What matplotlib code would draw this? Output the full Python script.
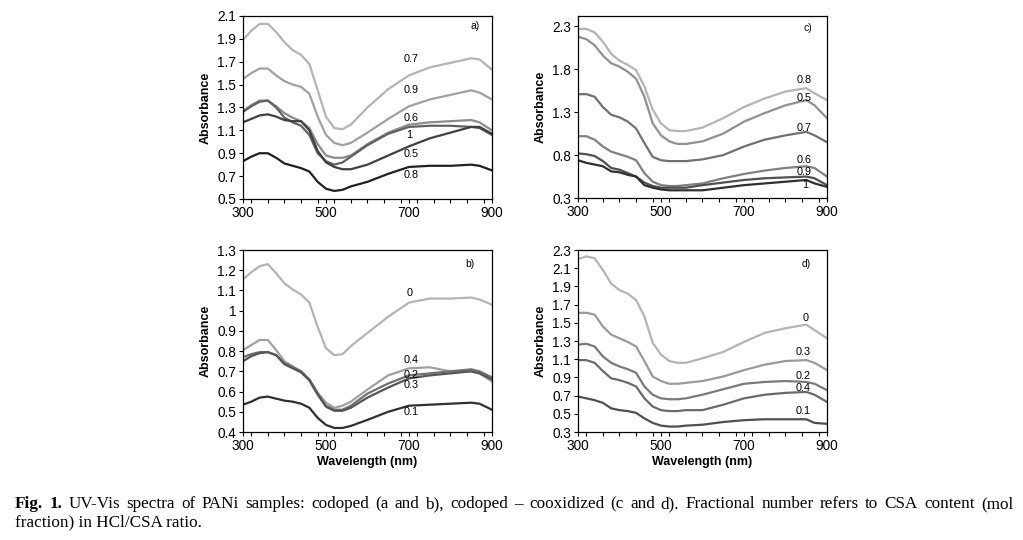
import numpy as np
import matplotlib.pyplot as plt
from matplotlib.ticker import MultipleLocator

plt.rcParams['font.family'] = ['Liberation Sans', 'DejaVu Sans']

wl = [300, 320, 340, 360, 380, 400, 420, 440, 460, 480, 500, 520, 540, 560,
      600, 650, 700, 750, 800, 850, 870, 900]

# panel a) codoped
a_labels = ['0.7', '0.9', '0.6', '1', '0.5', '0.8']
a_vals = [
    [1.89, 1.97, 2.03, 2.03, 1.96, 1.87, 1.80, 1.76, 1.68, 1.45, 1.22, 1.12, 1.11, 1.15,
     1.30, 1.46, 1.58, 1.65, 1.69, 1.73, 1.72, 1.63],
    [1.55, 1.60, 1.64, 1.64, 1.58, 1.53, 1.50, 1.48, 1.42, 1.22, 1.06, 0.99, 0.97, 0.99,
     1.08, 1.20, 1.31, 1.37, 1.41, 1.45, 1.43, 1.37],
    [1.27, 1.32, 1.36, 1.36, 1.31, 1.25, 1.21, 1.18, 1.12, 0.98, 0.88, 0.86, 0.86, 0.88,
     0.98, 1.08, 1.15, 1.17, 1.18, 1.19, 1.17, 1.10],
    [1.26, 1.31, 1.35, 1.36, 1.30, 1.21, 1.17, 1.14, 1.06, 0.90, 0.83, 0.80, 0.82, 0.87,
     0.97, 1.07, 1.13, 1.14, 1.14, 1.13, 1.12, 1.06],
    [1.17, 1.20, 1.23, 1.24, 1.22, 1.19, 1.18, 1.18, 1.10, 0.92, 0.82, 0.78, 0.76, 0.76,
     0.80, 0.88, 0.96, 1.03, 1.08, 1.13, 1.13, 1.07],
    [0.83, 0.87, 0.90, 0.90, 0.86, 0.81, 0.79, 0.77, 0.74, 0.65, 0.59, 0.57, 0.58, 0.61,
     0.65, 0.72, 0.78, 0.79, 0.79, 0.80, 0.79, 0.75],
]
a_colors = ['#b4b4b4', '#a0a0a0', '#8c8c8c', '#606060', '#404040', '#202020']
a_text = [(705, 1.72), (705, 1.45), (705, 1.21), (700, 1.06), (705, 0.89), (705, 0.71)]

# panel b) codoped
b_labels = ['0', '0.4', '0.2', '0.3', '0.1']
b_vals = [
    [1.155, 1.19, 1.22, 1.23, 1.185, 1.135, 1.105, 1.08, 1.04, 0.92, 0.815, 0.78, 0.785, 0.825,
     0.89, 0.97, 1.04, 1.06, 1.06, 1.065, 1.055, 1.03],
    [0.805, 0.83, 0.855, 0.855, 0.805, 0.75, 0.725, 0.70, 0.66, 0.595, 0.545, 0.52, 0.53, 0.55,
     0.61, 0.68, 0.715, 0.72, 0.70, 0.70, 0.69, 0.65],
    [0.77, 0.785, 0.795, 0.795, 0.78, 0.74, 0.72, 0.70, 0.66, 0.59, 0.53, 0.51, 0.51, 0.53,
     0.59, 0.64, 0.68, 0.69, 0.70, 0.71, 0.70, 0.67],
    [0.75, 0.775, 0.79, 0.795, 0.78, 0.735, 0.715, 0.695, 0.655, 0.585, 0.525, 0.505, 0.505, 0.52,
     0.57, 0.62, 0.665, 0.68, 0.69, 0.70, 0.69, 0.66],
    [0.535, 0.55, 0.57, 0.575, 0.565, 0.555, 0.55, 0.54, 0.52, 0.47, 0.435, 0.42, 0.42, 0.43,
     0.46, 0.50, 0.53, 0.535, 0.54, 0.545, 0.54, 0.51],
]
b_colors = ['#b4b4b4', '#a0a0a0', '#707070', '#555555', '#303030']
b_text = [(702, 1.085), (705, 0.757), (705, 0.68), (705, 0.63), (705, 0.50)]

# panel c) codoped - cooxidized
c_labels = ['0.8', '0.5', '0.7', '0.6', '0.9', '1']
c_vals = [
    [2.27, 2.27, 2.23, 2.12, 1.98, 1.90, 1.85, 1.79, 1.60, 1.33, 1.17, 1.09, 1.08, 1.08,
     1.12, 1.23, 1.36, 1.46, 1.54, 1.58, 1.52, 1.44],
    [2.18, 2.15, 2.08, 1.96, 1.87, 1.83, 1.77, 1.69, 1.48, 1.17, 1.03, 0.96, 0.93, 0.93,
     0.96, 1.05, 1.19, 1.29, 1.38, 1.44, 1.38, 1.23],
    [1.51, 1.51, 1.48, 1.36, 1.27, 1.24, 1.19, 1.11, 0.94, 0.78, 0.74, 0.73, 0.73, 0.73,
     0.75, 0.80, 0.90, 0.98, 1.03, 1.07, 1.03, 0.95],
    [1.02, 1.02, 0.98, 0.90, 0.84, 0.81, 0.78, 0.74, 0.59, 0.49, 0.45, 0.44, 0.44, 0.45,
     0.47, 0.53, 0.58, 0.62, 0.65, 0.67, 0.65, 0.55],
    [0.82, 0.81, 0.79, 0.73, 0.65, 0.63, 0.59, 0.55, 0.48, 0.44, 0.42, 0.42, 0.42, 0.42,
     0.45, 0.48, 0.51, 0.53, 0.54, 0.55, 0.53, 0.45],
    [0.74, 0.71, 0.69, 0.67, 0.61, 0.60, 0.57, 0.55, 0.45, 0.42, 0.40, 0.39, 0.39, 0.39,
     0.39, 0.42, 0.45, 0.47, 0.49, 0.51, 0.47, 0.43],
]
c_colors = ['#b4b4b4', '#909090', '#707070', '#808080', '#505050', '#303030']
c_text = [(845, 1.68), (845, 1.46), (845, 1.11), (845, 0.74), (845, 0.60), (848, 0.45)]

# panel d) codoped - cooxidized
d_labels = ['0', '0.3', '0.2', '0.4', '0.1']
d_vals = [
    [2.20, 2.23, 2.21, 2.08, 1.93, 1.86, 1.82, 1.75, 1.57, 1.28, 1.15, 1.08, 1.06, 1.06,
     1.11, 1.18, 1.29, 1.39, 1.44, 1.48, 1.42, 1.33],
    [1.61, 1.61, 1.59, 1.46, 1.37, 1.33, 1.29, 1.24, 1.08, 0.91, 0.86, 0.83, 0.83, 0.84,
     0.86, 0.91, 0.98, 1.04, 1.08, 1.09, 1.06, 0.98],
    [1.26, 1.27, 1.24, 1.13, 1.06, 1.02, 0.99, 0.95, 0.80, 0.71, 0.67, 0.66, 0.66, 0.67,
     0.71, 0.77, 0.83, 0.85, 0.86, 0.85, 0.83, 0.76],
    [1.09, 1.09, 1.06, 0.97, 0.89, 0.87, 0.84, 0.80, 0.67, 0.58, 0.54, 0.53, 0.53, 0.54,
     0.54, 0.60, 0.67, 0.71, 0.73, 0.74, 0.71, 0.63],
    [0.69, 0.67, 0.65, 0.62, 0.56, 0.54, 0.53, 0.51, 0.45, 0.40, 0.37, 0.36, 0.36, 0.37,
     0.38, 0.41, 0.43, 0.44, 0.44, 0.44, 0.40, 0.39],
]
d_colors = ['#b4b4b4', '#9a9a9a', '#7a7a7a', '#6a6a6a', '#505050']
d_text = [(848, 1.55), (842, 1.18), (842, 0.92), (842, 0.78), (842, 0.53)]


def draw_panel(rect, labels, vals, colors, text_pos, tag, tag_pos, yticks, ylim, xlabel):
    ax = fig.add_axes(rect)
    for lab, v, col, (tx, ty) in zip(labels, vals, colors, text_pos):
        ax.plot(wl, v, color=col, lw=1.6)
        ax.text(tx, ty, lab, fontsize=7.8, ha='center', va='center')
    ax.text(tag_pos[0], tag_pos[1], tag, fontsize=7.5, ha='center', va='center')
    ax.set_xlim(300, 900)
    ax.set_ylim(*ylim)
    ax.set_xticks([300, 500, 700, 900])
    ax.xaxis.set_minor_locator(MultipleLocator(40))
    ax.set_yticks(yticks)
    ax.set_yticklabels([f'{t:g}' for t in yticks])
    ax.tick_params(axis='both', which='both', direction='out', length=3, width=0.8,
                   labelsize=9.8, pad=2)
    ax.tick_params(axis='y', which='minor', left=False)
    ax.set_ylabel('Absorbance', fontsize=9, fontweight='bold', labelpad=4)
    if xlabel:
        ax.set_xlabel('Wavelength (nm)', fontsize=9, fontweight='bold', labelpad=2)
    for sp in ax.spines.values():
        sp.set_linewidth(0.9)
    return ax


fig = plt.figure(figsize=(10.23, 5.4), dpi=100)

draw_panel([0.2375, 0.6315, 0.2434, 0.339], a_labels, a_vals, a_colors, a_text,
           'a)', (860, 2.01), np.round(np.arange(0.5, 2.11, 0.2), 1), (0.5, 2.1), False)
draw_panel([0.565, 0.6333, 0.2434, 0.337], c_labels, c_vals, c_colors, c_text,
           'c)', (855, 2.28), np.round(np.arange(0.3, 2.31, 0.5), 1), (0.3, 2.42), False)
draw_panel([0.2375, 0.2, 0.2434, 0.337], b_labels, b_vals, b_colors, b_text,
           'b)', (848, 1.23), np.round(np.arange(0.4, 1.31, 0.1), 1), (0.4, 1.3), True)
draw_panel([0.565, 0.2, 0.2434, 0.337], d_labels, d_vals, d_colors, d_text,
           'd)', (850, 2.15), np.round(np.arange(0.3, 2.31, 0.2), 1), (0.3, 2.3), True)

# caption, first line justified to the full width like the journal page
cap1 = ('UV-Vis spectra of PANi samples: codoped (a and b), codoped \u2013 cooxidized (c and d). '
        'Fractional number refers to CSA content (mol')
cap2 = 'fraction) in HCl/CSA ratio.'
W, H = 1023, 540
left, right = 15, 1013
words = [('Fig.', 'bold'), ('1.', 'bold')] + [(w, 'normal') for w in cap1.split(' ')]
renderer = fig.canvas.get_renderer()
texts = []
for w, weight in words:
    t = fig.text(0, 1 - 508 / H, w, family='Liberation Serif', fontweight=weight,
                 fontsize=12.3, va='baseline')
    texts.append(t)
widths = [t.get_window_extent(renderer).width for t in texts]
gap = (right - left - sum(widths)) / (len(texts) - 1)
x = left
for t, wd in zip(texts, widths):
    t.set_x(x / W)
    x += wd + gap
fig.text(left / W, 1 - 526 / H, cap2, family='Liberation Serif', fontsize=12.3, va='baseline')

fig.savefig('out.png', dpi=100)
